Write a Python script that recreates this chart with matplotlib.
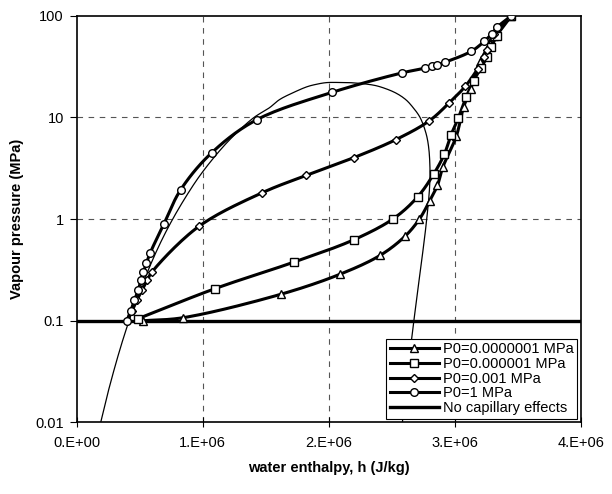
import numpy as np
import matplotlib
matplotlib.use("Agg")
import matplotlib.pyplot as plt
from matplotlib.lines import Line2D
from matplotlib.ticker import FixedLocator, FixedFormatter, NullLocator

plt.rcParams['font.family'] = ['Liberation Sans', 'DejaVu Sans']

# saturation dome (liquid branch up to critical point, then vapour branch down)
sat_p = [0.01, 0.02, 0.05, 0.1, 0.2, 0.5, 1, 2, 3, 5, 7, 10, 12.5, 15, 17.5, 20, 21, 22, 22.09,
         22, 21, 20, 17.5, 15, 12.5, 10, 7, 5, 3, 2, 1, 0.5, 0.2, 0.1, 0.05, 0.02, 0.01]
sat_h = [0.192e6, 0.251e6, 0.340e6, 0.417e6, 0.505e6, 0.640e6, 0.763e6, 0.909e6, 1.008e6,
         1.154e6, 1.267e6, 1.408e6, 1.532e6, 1.611e6, 1.717e6, 1.826e6, 1.888e6, 1.980e6, 2.084e6,
         2.170e6, 2.335e6, 2.410e6, 2.529e6, 2.611e6, 2.670e6, 2.725e6, 2.772e6, 2.794e6, 2.804e6,
         2.800e6, 2.778e6, 2.749e6, 2.707e6, 2.676e6, 2.646e6, 2.610e6, 2.585e6]

# P0 = 0.0000001 MPa
h_tri = [0.53e6, 0.843e6, 1.62e6, 2.091e6, 2.409e6, 2.607e6, 2.72e6, 2.80e6, 2.863e6, 2.906e6,
         3.012e6, 3.07e6, 3.128e6, 3.202e6, 3.276e6, 3.313e6, 3.45e6]
p_tri = [0.1, 0.107, 0.182, 0.287, 0.44, 0.68, 1.0, 1.5, 2.15, 3.25,
         6.5, 12.6, 19.2, 35, 53, 64, 100]

# P0 = 0.000001 MPa
h_sq = [0.49e6, 1.099e6, 1.726e6, 2.202e6, 2.514e6, 2.705e6, 2.832e6, 2.917e6, 2.972e6,
        3.03e6, 3.091e6, 3.149e6, 3.21e6, 3.256e6, 3.29e6, 3.335e6, 3.45e6]
p_sq = [0.105, 0.207, 0.378, 0.628, 1.01, 1.65, 2.76, 4.33, 6.78,
        9.96, 15.9, 22.8, 31, 39, 49, 64, 100]

# P0 = 0.001 MPa
h_dia = [0.40e6, 0.44e6, 0.48e6, 0.52e6, 0.56e6, 0.597e6, 0.972e6, 1.47e6, 1.821e6, 2.202e6,
         2.533e6, 2.795e6, 2.956e6, 3.083e6, 3.181e6, 3.229e6, 3.256e6, 3.308e6, 3.45e6]
p_dia = [0.1, 0.125, 0.16, 0.2, 0.25, 0.30, 0.85, 1.81, 2.69, 4.03,
         6.05, 9.2, 13.9, 20.2, 30, 39, 45.7, 66.7, 100]

# P0 = 1 MPa
h_circ = [0.40e6, 0.43e6, 0.46e6, 0.49e6, 0.51e6, 0.53e6, 0.555e6, 0.583e6, 0.694e6, 0.827e6,
          1.073e6, 1.43e6, 2.03e6, 2.58e6, 2.766e6, 2.82e6, 2.863e6, 2.925e6, 3.131e6,
          3.234e6, 3.295e6, 3.335e6, 3.45e6]
p_circ = [0.1, 0.125, 0.16, 0.2, 0.25, 0.3, 0.37, 0.46, 0.90, 1.95,
          4.5, 9.5, 17.7, 27.4, 30.6, 31.8, 33, 35, 44.7,
          56, 66.7, 77, 100]

x_ticks = [0, 1e6, 2e6, 3e6, 4e6]
x_labels = ['0.E+00', '1.E+06', '2.E+06', '3.E+06', '4.E+06']
y_ticks = [0.01, 0.1, 1, 10, 100]
y_labels = ['0.01', '0.1', '1', '10', '100']


def smooth(h, p, n=16):
    # centripetal Catmull-Rom through the points, in (h, log p) space
    pts = np.column_stack([np.asarray(h) / 1e6, np.log10(p)])
    pts = np.vstack([2 * pts[0] - pts[1], pts, 2 * pts[-1] - pts[-2]])
    out = []
    for i in range(1, len(pts) - 2):
        P0, P1, P2, P3 = pts[i - 1:i + 3]
        t0 = 0.0
        t1 = t0 + max(np.linalg.norm(P1 - P0), 1e-9) ** 0.5
        t2 = t1 + max(np.linalg.norm(P2 - P1), 1e-9) ** 0.5
        t3 = t2 + max(np.linalg.norm(P3 - P2), 1e-9) ** 0.5
        t = np.linspace(t1, t2, n, endpoint=False)[:, None]
        A1 = (t1 - t) / (t1 - t0) * P0 + (t - t0) / (t1 - t0) * P1
        A2 = (t2 - t) / (t2 - t1) * P1 + (t - t1) / (t2 - t1) * P2
        A3 = (t3 - t) / (t3 - t2) * P2 + (t - t2) / (t3 - t2) * P3
        B1 = (t2 - t) / (t2 - t0) * A1 + (t - t0) / (t2 - t0) * A2
        B2 = (t3 - t) / (t3 - t1) * A2 + (t - t1) / (t3 - t1) * A3
        out.append((t2 - t) / (t2 - t1) * B1 + (t - t1) / (t2 - t1) * B2)
    out.append(pts[-2][None])
    out = np.vstack(out)
    return out[:, 0] * 1e6, 10 ** out[:, 1]


fig = plt.figure(figsize=(6.12, 4.94), dpi=100)
ax = fig.add_axes([0.125, 0.145, 0.824, 0.823])
ax.set_yscale('log')
ax.set_xlim(0, 4e6)
ax.set_ylim(0.01, 100)

# dashed grid
for x in x_ticks[1:-1]:
    ax.axvline(x, color='#555555', lw=0.8, ls=(0, (5, 5)), zorder=0)
for y in [1, 10]:
    ax.axhline(y, color='#555555', lw=0.8, ls=(0, (5, 5)), zorder=0)

sx, sy = smooth(sat_h, sat_p)
ax.plot(sx, sy, color='black', lw=0.9, zorder=2)

series = [
    (h_tri, p_tri, '^', 6, 'P0=0.0000001 MPa'),
    (h_sq, p_sq, 's', 6, 'P0=0.000001 MPa'),
    (h_dia, p_dia, 'D', 4.5, 'P0=0.001 MPa'),
    (h_circ, p_circ, 'o', 5.5, 'P0=1 MPa'),
]
handles = []
for h, p, m, ms, lab in series:
    cx, cy = smooth(h, p)
    ax.plot(cx, cy, color='black', lw=2.2, zorder=3, clip_on=True)
    ax.plot(h, p, ls='none', marker=m, ms=ms, mfc='white', mec='black', mew=1.0, zorder=4)
    handles.append(Line2D([], [], color='black', lw=2.2, marker=m, ms=ms,
                          mfc='white', mec='black', mew=1.0, label=lab))

ax.plot([0, 4e6], [0.1, 0.1], color='black', lw=2.4, zorder=3)
handles.append(Line2D([], [], color='black', lw=2.4, label='No capillary effects'))

ax.xaxis.set_major_locator(FixedLocator(x_ticks))
ax.xaxis.set_major_formatter(FixedFormatter(x_labels))
ax.yaxis.set_major_locator(FixedLocator(y_ticks))
ax.yaxis.set_major_formatter(FixedFormatter(y_labels))
ax.yaxis.set_minor_locator(NullLocator())
ax.tick_params(axis='x', direction='inout', length=7, labelsize=10.5, pad=6)
ax.tick_params(axis='y', direction='out', length=5, labelsize=10.5, pad=4)
for s in ax.spines.values():
    s.set_linewidth(1.2)

ax.set_xlabel('water enthalpy, h (J/kg)', fontsize=10.5, fontweight='bold', labelpad=8)
ax.set_ylabel('Vapour pressure (MPa)', fontsize=10.5, fontweight='bold', labelpad=8)

leg = ax.legend(handles=handles, loc='lower right', fontsize=10.5, numpoints=1,
                handlelength=3.4, fancybox=False, framealpha=1, edgecolor='black',
                borderpad=0.25, labelspacing=0.05, handletextpad=0.25, borderaxespad=0.25)
leg.get_frame().set_linewidth(0.8)

fig.savefig('out.png', dpi=100)
